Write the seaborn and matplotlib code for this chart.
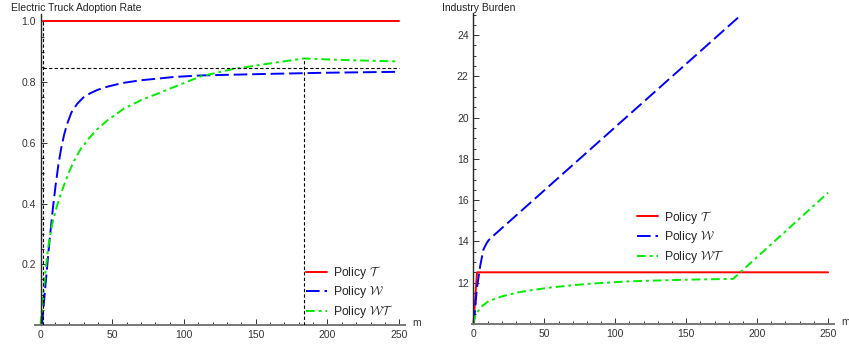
import numpy as np
import pandas as pd
import seaborn as sns
import matplotlib.pyplot as plt
from matplotlib.ticker import MultipleLocator

# Left panel: electric truck adoption rate
adopt_t_x = [2, 250]
adopt_t_y = [1.0, 1.0]
adopt_w_x = [1, 3.5, 6, 8.5, 10.5, 12.5, 14.5, 16.5, 18.6, 21.5, 25.6, 30, 34.9,
             40, 46.6, 57, 69.8, 93.1, 111.7, 157.6, 200, 250]
adopt_w_y = [0, 0.135, 0.265, 0.38, 0.46, 0.53, 0.585, 0.628, 0.663, 0.7, 0.729,
             0.75, 0.764, 0.775, 0.785, 0.797, 0.806, 0.817, 0.822, 0.827, 0.831, 0.834]
adopt_wt_x = [0, 1.5, 3.5, 5.4, 8.2, 11, 13, 16.3, 19.8, 23.3, 28, 34.9, 40, 46.6,
              58.2, 69.8, 81.5, 93.1, 111.7, 134, 157.6, 183.5, 210, 250]
adopt_wt_y = [0, 0.08, 0.18, 0.258, 0.335, 0.385, 0.415, 0.46, 0.503, 0.54, 0.58,
              0.621, 0.647, 0.674, 0.713, 0.74, 0.762, 0.784, 0.819, 0.843, 0.86,
              0.878, 0.873, 0.868]

# reference guides on the left panel
guide_t_start = 2
guide_level = 0.845
guide_t_peak = 183.5
guide_peak = 0.878

# Right panel: industry burden
burden_t_x = [0, 2.5, 250]
burden_t_y = [10, 12.5, 12.5]
burden_w_x = [0.3, 2.3, 4.7, 7, 9, 10.6, 15.3, 189]
burden_w_y = [10, 11.66, 12.79, 13.6, 13.88, 14.05, 14.35, 25.0]
burden_wt_x = [0, 0.8, 2.3, 5.9, 10.6, 19.9, 31.7, 43.4, 55.2, 66.9, 80.5, 109,
               133, 156, 183, 250]
burden_wt_y = [10, 10.3, 10.53, 10.85, 11.1, 11.33, 11.53, 11.66, 11.77, 11.85,
               11.94, 12.06, 12.11, 12.15, 12.18, 16.36]

labels = [r'Policy $\mathcal{T}$', r'Policy $\mathcal{W}$', r'Policy $\mathcal{WT}$']
colors = ['#ff0000', '#0000ff', '#00ee00']
dashes = [(None, None), (7, 2.5), (4.5, 2, 1.5, 2)]

sns.set_style("ticks")
plt.rcParams['font.family'] = ['Liberation Sans', 'DejaVu Sans']
plt.rcParams['mathtext.fontset'] = 'cm'

fig = plt.figure(figsize=(8.49, 3.46), dpi=100)
ax1 = fig.add_axes([0.041, 0.061, 0.436, 0.899])
ax2 = fig.add_axes([0.556, 0.064, 0.426, 0.897])


def draw(ax, series):
    for (xs, ys), lab, col, d in zip(series, labels, colors, dashes):
        df = pd.DataFrame({'m': xs, 'v': ys})
        sns.lineplot(data=df, x='m', y='v', ax=ax, color=col, lw=1.4,
                     sort=False, estimator=None, label=lab)
        if d[0] is not None:
            ax.lines[-1].set_dashes(d)


draw(ax1, [(adopt_t_x, adopt_t_y), (adopt_w_x, adopt_w_y), (adopt_wt_x, adopt_wt_y)])
draw(ax2, [(burden_t_x, burden_t_y), (burden_w_x, burden_w_y), (burden_wt_x, burden_wt_y)])

# dashed guides (on top of the curves)
gk = dict(colors='k', linestyles=(0, (3, 2)), lw=0.8, zorder=5)
ax1.vlines(guide_t_start, 0, 1.0, **gk)
ax1.hlines(guide_level, guide_t_start, 250, **gk)
ax1.vlines(guide_t_peak, 0, guide_peak, **gk)

ax1.set_xlim(-4, 254)
ax1.set_ylim(0, 1.025)
ax2.set_xlim(-1, 254)
ax2.set_ylim(10, 25.05)

for ax, ymaj, ymin in [(ax1, 0.2, 0.05), (ax2, 2, 0.5)]:
    sns.despine(ax=ax)
    ax.spines['left'].set_position(('data', 0))
    ax.spines['left'].set_linewidth(1.0)
    ax.spines['bottom'].set_color('#777777')
    ax.spines['bottom'].set_linewidth(1.4)
    ax.xaxis.set_major_locator(MultipleLocator(50))
    ax.xaxis.set_minor_locator(MultipleLocator(10))
    ax.yaxis.set_major_locator(MultipleLocator(ymaj))
    ax.yaxis.set_minor_locator(MultipleLocator(ymin))
    ax.tick_params(which='both', direction='in', colors='#333333', labelsize=7.5,
                   width=0.7)
    ax.tick_params(which='major', length=4)
    ax.tick_params(which='minor', length=2)
    ax.set_xlabel('')
    ax.set_ylabel('')
    ax.text(1.02, 0.005, 'm', transform=ax.transAxes, fontsize=7.5,
            color='#333333', va='center', ha='left')

fig.text(11 / 849, 1 - 3 / 346, 'Electric Truck Adoption Rate', fontsize=7.5,
         color='#222222', va='top', ha='left')
fig.text(442 / 849, 1 - 3 / 346, 'Industry Burden', fontsize=7.5,
         color='#222222', va='top', ha='left')

ax1.set_yticks([0.2, 0.4, 0.6, 0.8, 1.0])
ax1.yaxis.set_major_formatter(plt.FuncFormatter(lambda v, p: f'{v:.1f}'))
ax2.set_yticks([12, 14, 16, 18, 20, 22, 24])

leg_kw = dict(frameon=False, fontsize=8.8, handlelength=1.75, labelspacing=0.25,
              handletextpad=0.5, borderpad=0, borderaxespad=0)
ax1.legend(loc='lower left', bbox_to_anchor=(0.732, 0.016), **leg_kw)
ax2.legend(loc='lower left', bbox_to_anchor=(0.455, 0.19), **leg_kw)

fig.savefig('out.png', dpi=100)
